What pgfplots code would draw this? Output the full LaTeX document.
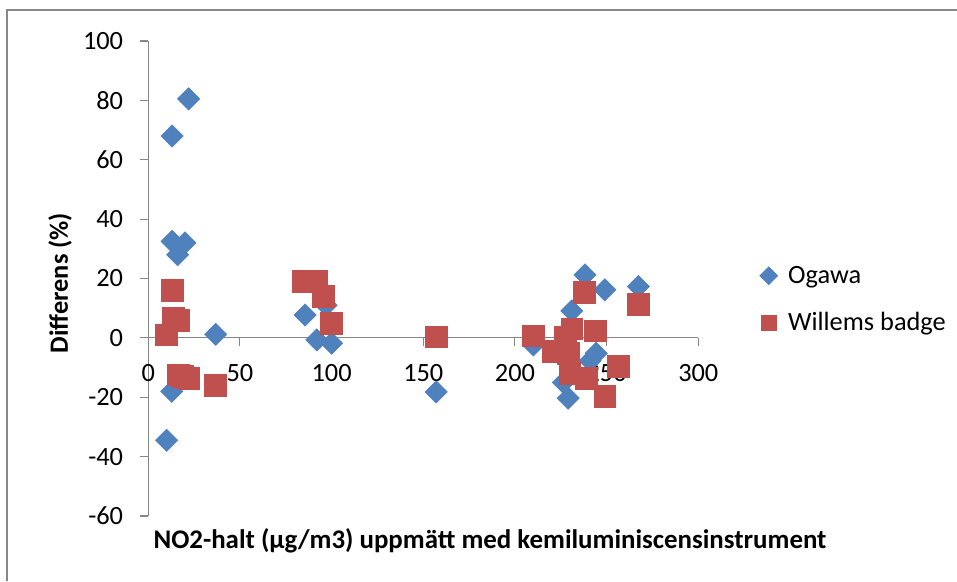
\documentclass[border=0pt]{standalone}
\usepackage{fontspec}
\setmainfont{Carlito}
\usepackage{pgfplots}
\pgfplotsset{compat=1.18}
\definecolor{ogawablue}{HTML}{4F81BD}
\definecolor{willemsred}{HTML}{C0504D}
\definecolor{axisgray}{HTML}{868686}
\definecolor{framegray}{HTML}{888888}

\begin{document}
\begin{tikzpicture}
\useasboundingbox (-2.966,-1.3) rectangle (16.174,10.32);
\draw[framegray,line width=0.05cm] (-2.826,-1.3) -- (-2.826,10.12) -- (16.174,10.12);
\begin{axis}[
  at={(0,0)}, anchor=south west,
  scale only axis, width=11cm, height=9.5cm,
  xmin=0, xmax=300, ymin=-60, ymax=100,
  axis x line*=middle, axis y line*=left,
  hide obscured x ticks=false, hide obscured y ticks=false,
  xtick={0,50,...,300}, xticklabels={0,50,100,150,200,250,300},
  ytick={-60,-40,...,100}, yticklabels={-60,-40,-20,0,20,40,60,80,100},
  tick align=outside, major tick length=0.16cm,
  axis line style={axisgray,line width=0.6pt},
  tick style={axisgray,line width=0.6pt},
  tick label style={font=\fontsize{15}{18}\selectfont,text=black},
  xticklabel style={anchor=base,yshift=-0.714cm},
  yticklabel style={anchor=east,xshift=-0.22cm},
  clip=false,
  legend style={at={(rel axis cs:1.1115,0.4558)}, anchor=west,
    draw=none, fill=none, inner xsep=0pt, inner ysep=0pt,
    font=\fontsize{15}{18}\selectfont, row sep=0.39cm, column sep=0.14cm},
  legend cell align=left,
]
\addplot[only marks, mark=square*, mark size=0.156cm,
  mark options={rotate=45,fill=ogawablue,draw=ogawablue},
  legend image code/.code={\draw[mark=square*,mark size=0.125cm,
    mark options={rotate=45,fill=ogawablue,draw=ogawablue}]
    plot coordinates {(0cm,0cm)};}]
  coordinates {
  (22,80.5) (13,68) (13,32.5) (20,32) (16,28) (36.8,1.2) (12.8,-18)
  (10,-34.5) (85.5,7.7) (97,11) (91.9,-0.7) (100,-1.8) (157,-18.2)
  (210,-2.4) (226.4,-15) (229,-20.3) (231,9.1) (238.2,21.2) (241,-7.7)
  (244.3,-5.2) (249,16.2) (267.3,17.3)};
\addlegendentry{Ogawa}
\addplot[only marks, mark=square*, mark size=0.217cm,
  mark options={fill=willemsred,draw=willemsred},
  legend image code/.code={\draw[mark=square*,mark size=0.15cm,
    mark options={fill=willemsred,draw=willemsred}]
    plot coordinates {(0cm,0cm)};}]
  coordinates {
  (10,1) (13.3,15.9) (13.6,6.5) (16.4,6) (16.4,-12.5) (18.5,-13)
  (21.8,-13.6) (36.4,-16) (84.6,19) (91.9,19) (95.5,14) (100,4.9)
  (157,0.3) (210,0.7) (221,-4.6) (227.3,0.2) (229,-5.2) (230,-11.9)
  (231,3) (238,15.4) (239,-13.6) (244,2.4) (249,-19.8) (256.4,-9.7)
  (267.3,11.4)};
\addlegendentry{Willems badge}
\end{axis}
\node[font=\fontsize{15.3}{18}\selectfont\bfseries] at (6.834,-0.5)
  {NO2-halt (µg/m3) uppmätt med kemiluminiscensinstrument};
\node[font=\fontsize{15}{18}\selectfont\bfseries,rotate=90] at (-1.766,4.66)
  {Differens (\%)};
\end{tikzpicture}
\end{document}
